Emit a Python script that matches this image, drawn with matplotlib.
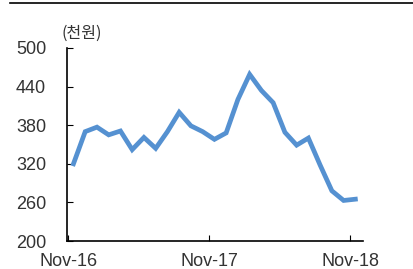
import numpy as np
import matplotlib
matplotlib.use('Agg')
import matplotlib.pyplot as plt

plt.rcParams['font.family'] = ['Liberation Sans', 'Noto Sans CJK KR']

# monthly values, Nov-16 .. Nov-18
values = [320, 370, 377, 365, 371, 342, 361, 344, 370, 400, 379, 370, 358,
          368, 420, 459, 434, 415, 369, 349, 360, 318, 278, 263, 265]
tick_pos = [0, 12, 24]
tick_labels = ['Nov-16', 'Nov-17', 'Nov-18']
yticks = [200, 260, 320, 380, 440, 500]

x = np.arange(len(values)) + 0.45

fig = plt.figure(figsize=(4.14, 2.69), dpi=100)
ax = fig.add_axes([67 / 414, 1 - 241 / 269, (363 - 67) / 414, (241 - 48) / 269])

ax.plot(x, values, color='#5591d1', lw=3.4, solid_joinstyle='miter')

ax.set_xlim(-0.1, 25.1)
ax.set_ylim(200, 500)
ax.set_yticks(yticks)
ax.set_xticks(tick_pos)
ax.set_xticklabels(tick_labels)
for s in ['top', 'right']:
    ax.spines[s].set_visible(False)
for s in ['left', 'bottom']:
    ax.spines[s].set_linewidth(1.2)
ax.tick_params(axis='y', direction='in', length=4, pad=15, labelsize=13)
ax.tick_params(axis='x', direction='in', length=4, pad=9, labelsize=13)
for lab in ax.get_yticklabels() + ax.get_xticklabels():
    lab.set_color('#333333')

fig.text(62 / 414, 1 - 33 / 269, '(천원)', fontsize=11.5, color='#333333', va='center', ha='left',
         family=['Noto Sans CJK KR'])
fig.add_artist(plt.Line2D([10 / 414, 1], [1 - 3 / 269, 1 - 3 / 269], color='black', lw=1.2))

fig.savefig('out.png', dpi=100)
